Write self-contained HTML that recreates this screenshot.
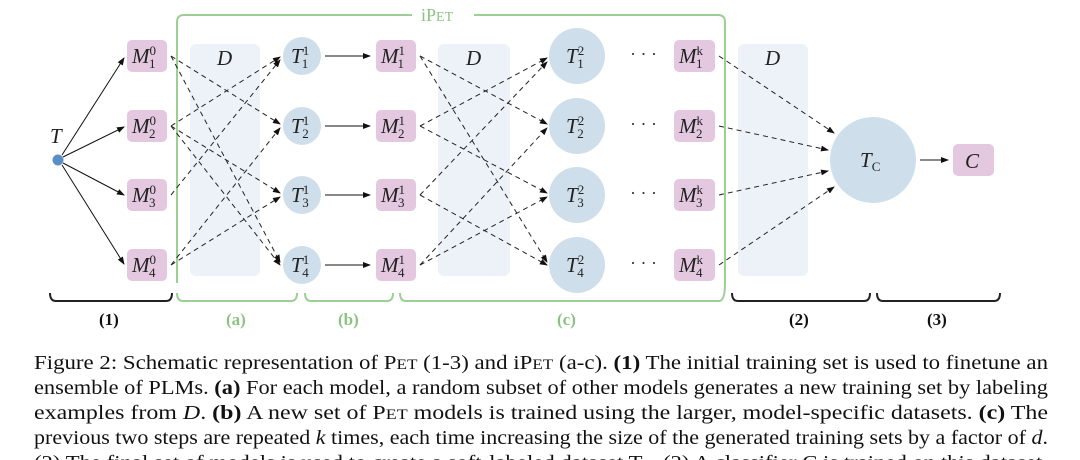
<!DOCTYPE html>
<html><head><meta charset="utf-8"><style>
html,body{margin:0;padding:0;background:#fff;}
svg{display:block;}
.m{font-family:"Liberation Serif",serif;font-style:italic;font-size:21px;fill:#222;}
.s{font-size:13px;font-style:normal;}
.cap{font-family:"Liberation Serif",serif;font-size:20px;fill:#111;}
.lb{font-family:"Liberation Serif",serif;font-weight:bold;font-size:17px;}
</style></head><body>
<svg width="1080" height="460" viewBox="0 0 1080 460" xmlns="http://www.w3.org/2000/svg">
<defs>
<marker id="a" markerWidth="8" markerHeight="8" refX="7" refY="4" orient="auto" markerUnits="userSpaceOnUse"><path d="M0,1 L8,4 L0,7 Z" fill="#111"/></marker>
</defs>
<rect x="190" y="44" width="70" height="232" rx="6" fill="#edf2f8"/>
<rect x="438" y="44" width="72" height="232" rx="6" fill="#edf2f8"/>
<rect x="738" y="44" width="70" height="232" rx="6" fill="#edf2f8"/>
<text class="m" x="217" y="65">D</text>
<text class="m" x="466" y="65">D</text>
<text class="m" x="765" y="65">D</text>
<path d="M177,283 L177,22 Q177,15 184,15 L412,15 M474,15 L718,15 Q725,15 725,22 L725,283" fill="none" stroke="#9ccf93" stroke-width="2"/>
<text x="421" y="21" font-family="Liberation Serif,serif" font-size="18" fill="#8cc383">iP<tspan font-size="14">ET</tspan></text>
<circle cx="58" cy="160" r="5.5" fill="#5b8fc4"/>
<text class="m" x="50" y="143">T</text>
<g stroke="#111" stroke-width="1" marker-end="url(#a)">
<line x1="62" y1="155" x2="124" y2="58"/>
<line x1="63" y1="157" x2="124" y2="127"/>
<line x1="63" y1="163" x2="124" y2="195"/>
<line x1="62" y1="165" x2="124" y2="264"/>
<line x1="325" y1="56" x2="370" y2="56"/>
<line x1="325" y1="126" x2="370" y2="126"/>
<line x1="325" y1="195" x2="370" y2="195"/>
<line x1="325" y1="265" x2="370" y2="265"/>
<line x1="920" y1="160" x2="948" y2="160"/>
</g>
<g stroke="#222" stroke-width="1" stroke-dasharray="5,4" marker-end="url(#a)" fill="none">
<line x1="171" y1="126" x2="280" y2="57"/>
<line x1="171" y1="195" x2="280" y2="60"/>
<line x1="171" y1="56" x2="280" y2="124"/>
<line x1="171" y1="265" x2="280" y2="128"/>
<line x1="171" y1="126" x2="280" y2="193"/>
<line x1="171" y1="265" x2="280" y2="197"/>
<line x1="171" y1="56" x2="280" y2="262"/>
<line x1="171" y1="126" x2="280" y2="265"/>
<line x1="420" y1="126" x2="547" y2="58"/>
<line x1="420" y1="195" x2="547" y2="62"/>
<line x1="420" y1="56" x2="547" y2="124"/>
<line x1="420" y1="265" x2="547" y2="128"/>
<line x1="420" y1="126" x2="547" y2="193"/>
<line x1="420" y1="265" x2="547" y2="197"/>
<line x1="420" y1="56" x2="547" y2="262"/>
<line x1="420" y1="195" x2="547" y2="265"/>
<line x1="719" y1="56" x2="834" y2="133"/>
<line x1="719" y1="126" x2="828" y2="150"/>
<line x1="719" y1="195" x2="828" y2="171"/>
<line x1="719" y1="265" x2="834" y2="187"/>
</g>
<g fill="#e3c8e0">
<rect x="127" y="40" width="40" height="32" rx="5"/><rect x="127" y="110" width="40" height="32" rx="5"/>
<rect x="127" y="179" width="40" height="32" rx="5"/><rect x="127" y="249" width="40" height="32" rx="5"/>
<rect x="376" y="40" width="40" height="32" rx="5"/><rect x="376" y="110" width="40" height="32" rx="5"/>
<rect x="376" y="179" width="40" height="32" rx="5"/><rect x="376" y="249" width="40" height="32" rx="5"/>
<rect x="674" y="40" width="41" height="32" rx="5"/><rect x="674" y="110" width="41" height="32" rx="5"/>
<rect x="674" y="179" width="41" height="32" rx="5"/><rect x="674" y="249" width="41" height="32" rx="5"/>
<rect x="953" y="144" width="41" height="32" rx="5"/>
</g>
<g fill="#cfdeeb">
<circle cx="302" cy="56" r="19"/><circle cx="302" cy="126" r="19"/><circle cx="302" cy="195" r="19"/><circle cx="302" cy="265" r="19"/>
<circle cx="577" cy="56" r="28"/><circle cx="577" cy="126" r="28"/><circle cx="577" cy="195" r="28"/><circle cx="577" cy="265" r="28"/>
<circle cx="873" cy="160" r="43"/>
</g>
<g class="m">
<text x="132" y="63">M<tspan class="s" dx="0" dy="-8">0</tspan><tspan class="s" dx="-7" dy="13">1</tspan></text>
<text x="132" y="133">M<tspan class="s" dx="0" dy="-8">0</tspan><tspan class="s" dx="-7" dy="13">2</tspan></text>
<text x="132" y="202">M<tspan class="s" dx="0" dy="-8">0</tspan><tspan class="s" dx="-7" dy="13">3</tspan></text>
<text x="132" y="272">M<tspan class="s" dx="0" dy="-8">0</tspan><tspan class="s" dx="-7" dy="13">4</tspan></text>
<text x="381" y="63">M<tspan class="s" dx="0" dy="-8">1</tspan><tspan class="s" dx="-7" dy="13">1</tspan></text>
<text x="381" y="133">M<tspan class="s" dx="0" dy="-8">1</tspan><tspan class="s" dx="-7" dy="13">2</tspan></text>
<text x="381" y="202">M<tspan class="s" dx="0" dy="-8">1</tspan><tspan class="s" dx="-7" dy="13">3</tspan></text>
<text x="381" y="272">M<tspan class="s" dx="0" dy="-8">1</tspan><tspan class="s" dx="-7" dy="13">4</tspan></text>
<text x="679" y="63">M<tspan class="s" dx="0" dy="-8" font-style="italic">k</tspan><tspan class="s" dx="-7" dy="13">1</tspan></text>
<text x="679" y="133">M<tspan class="s" dx="0" dy="-8" font-style="italic">k</tspan><tspan class="s" dx="-7" dy="13">2</tspan></text>
<text x="679" y="202">M<tspan class="s" dx="0" dy="-8" font-style="italic">k</tspan><tspan class="s" dx="-7" dy="13">3</tspan></text>
<text x="679" y="272">M<tspan class="s" dx="0" dy="-8" font-style="italic">k</tspan><tspan class="s" dx="-7" dy="13">4</tspan></text>
<text x="291" y="63">T<tspan class="s" dx="0" dy="-8">1</tspan><tspan class="s" dx="-7" dy="13">1</tspan></text>
<text x="291" y="133">T<tspan class="s" dx="0" dy="-8">1</tspan><tspan class="s" dx="-7" dy="13">2</tspan></text>
<text x="291" y="202">T<tspan class="s" dx="0" dy="-8">1</tspan><tspan class="s" dx="-7" dy="13">3</tspan></text>
<text x="291" y="272">T<tspan class="s" dx="0" dy="-8">1</tspan><tspan class="s" dx="-7" dy="13">4</tspan></text>
<text x="566" y="63">T<tspan class="s" dx="0" dy="-8">2</tspan><tspan class="s" dx="-7" dy="13">1</tspan></text>
<text x="566" y="133">T<tspan class="s" dx="0" dy="-8">2</tspan><tspan class="s" dx="-7" dy="13">2</tspan></text>
<text x="566" y="202">T<tspan class="s" dx="0" dy="-8">2</tspan><tspan class="s" dx="-7" dy="13">3</tspan></text>
<text x="566" y="272">T<tspan class="s" dx="0" dy="-8">2</tspan><tspan class="s" dx="-7" dy="13">4</tspan></text>
<text x="860" y="167">T<tspan class="s" dy="4" font-style="italic">C</tspan></text>
<text x="965" y="168">C</text>
</g>
<g font-family="Liberation Serif,serif" font-size="18" fill="#333">
<text x="630" y="60">· · ·</text><text x="630" y="130">· · ·</text><text x="630" y="199">· · ·</text><text x="630" y="269">· · ·</text>
</g>
<g fill="none" stroke-width="2">
<path d="M50,293 Q50,301 56,301 L166,301 Q172,301 172,293" stroke="#222"/>
<path d="M177,293 Q177,301 183,301 L291,301 Q297,301 297,293" stroke="#9ccf93"/>
<path d="M305,293 Q305,301 311,301 L387,301 Q393,301 393,293" stroke="#9ccf93"/>
<path d="M400,293 Q400,301 406,301 L719,301 Q725,301 725,283" stroke="#9ccf93"/>
<path d="M732,293 Q732,301 738,301 L864,301 Q870,301 870,293" stroke="#222"/>
<path d="M877,293 Q877,301 883,301 L994,301 Q1000,301 1000,293" stroke="#222"/>
</g>
<text class="lb" x="99" y="325" fill="#111">(1)</text>
<text class="lb" x="226" y="325" fill="#8cc383">(a)</text>
<text class="lb" x="338" y="325" fill="#8cc383">(b)</text>
<text class="lb" x="557" y="325" fill="#8cc383">(c)</text>
<text class="lb" x="789" y="325" fill="#111">(2)</text>
<text class="lb" x="927" y="325" fill="#111">(3)</text>
<g class="cap">
<text x="34" y="369" textLength="1014" lengthAdjust="spacingAndGlyphs">Figure 2: Schematic representation of P<tspan font-size="15">ET</tspan> (1-3) and iP<tspan font-size="15">ET</tspan> (a-c). <tspan font-weight="bold">(1)</tspan> The initial training set is used to finetune an</text>
<text x="34" y="394" textLength="1014" lengthAdjust="spacingAndGlyphs">ensemble of PLMs. <tspan font-weight="bold">(a)</tspan> For each model, a random subset of other models generates a new training set by labeling</text>
<text x="34" y="419" textLength="1014" lengthAdjust="spacingAndGlyphs">examples from <tspan font-style="italic">D</tspan>.  <tspan font-weight="bold">(b)</tspan> A new set of P<tspan font-size="15">ET</tspan> models is trained using the larger, model-specific datasets.  <tspan font-weight="bold">(c)</tspan> The</text>
<text x="34" y="444" textLength="1014" lengthAdjust="spacingAndGlyphs">previous two steps are repeated <tspan font-style="italic">k</tspan> times, each time increasing the size of the generated training sets by a factor of <tspan font-style="italic">d</tspan>.</text>
<text x="34" y="469" textLength="1014" lengthAdjust="spacingAndGlyphs">(2) The final set of models is used to create a soft-labeled dataset T<tspan font-size="12">C</tspan>. (3) A classifier C is trained on this dataset.</text>
</g>
</svg>
</body></html>
